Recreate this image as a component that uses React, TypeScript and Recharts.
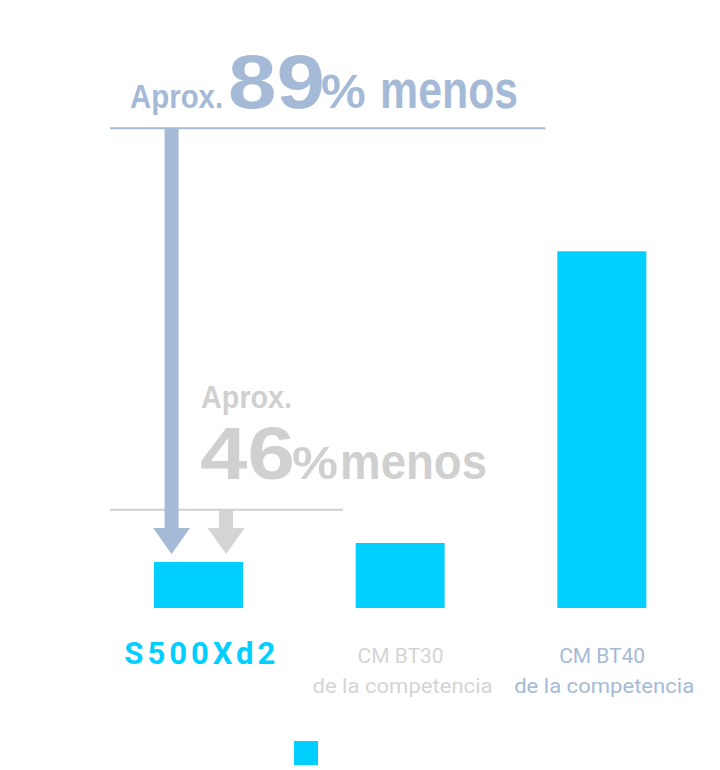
import React from "react";
import { BarChart, Bar, XAxis, YAxis, ReferenceLine, Legend } from "recharts";

// ---- data ----
const categories = ["S500Xd2", "CM BT30", "CM BT40"];
const subtitles = ["", "de la competencia", "de la competencia"];
const values = [11.5, 16.25, 89];

// annotation levels (value units) and text
const mainLevel = 119.75;
const secondLevel = 24.5;
const arrowTipLevel = 13.5;
const mainTexts = ["Aprox.", "89", "%", "menos"];
const secondTexts = ["Aprox.", "46", "%", "menos"];

// ---- styles ----
const CYAN = "#00CFFF";
const BLUEGRAY = "#A5BAD6";
const GRAY = "#D4D4D4";
const tickColors = [CYAN, GRAY, BLUEGRAY];
const ANNOT_FONT = "'Liberation Sans', Arial, sans-serif";
const LABEL_FONT = "Roboto, 'Noto Sans', sans-serif";

const data = categories.map((name, i) => ({ name, value: values[i] }));

const CategoryTick = (props: any) => {
  const { x, y, payload } = props;
  const i = categories.indexOf(payload.value);
  if (i === 0) {
    return (
      <text
        x={x + 3}
        y={y + 56}
        textAnchor="middle"
        fill={tickColors[i]}
        fontFamily={LABEL_FONT}
        fontWeight={700}
        fontSize={31}
        letterSpacing={4}
      >
        {payload.value}
      </text>
    );
  }
  return (
    <g>
      <text
        x={x}
        y={y + 55}
        textAnchor="middle"
        fill={tickColors[i]}
        fontFamily={LABEL_FONT}
        fontSize={20.5}
        textLength={86}
        lengthAdjust="spacingAndGlyphs"
      >
        {payload.value}
      </text>
      <text
        x={x + 2}
        y={y + 85}
        textAnchor="middle"
        fill={tickColors[i]}
        fontFamily={LABEL_FONT}
        fontSize={21}
        textLength={180}
        lengthAdjust="spacingAndGlyphs"
      >
        {subtitles[i]}
      </text>
    </g>
  );
};

type Piece = { dx: number; dy: number; size: number; w: number };

const mainLayout: Piece[] = [
  { dx: 20, dy: -20, size: 33, w: 93 },
  { dx: 118, dy: -20, size: 76, w: 97 },
  { dx: 211, dy: -20, size: 48, w: 45 },
  { dx: 270, dy: -20, size: 53, w: 138 },
];
const secondLayout: Piece[] = [
  { dx: 91, dy: -102, size: 31, w: 91 },
  { dx: 90, dy: -31, size: 74, w: 95 },
  { dx: 182, dy: -31, size: 46, w: 46 },
  { dx: 230, dy: -31, size: 50, w: 147 },
];

const makeAnnotationLine =
  (color: string, texts: string[], layout: Piece[]) => (p: any) => {
    const { x1, y1, x2, y2 } = p;
    return (
      <g>
        <line x1={x1} y1={y1} x2={x2} y2={y2} stroke={color} strokeWidth={2} />
        {texts.map((s, k) => (
          <text
            key={k}
            x={x1 + layout[k].dx}
            y={y1 + layout[k].dy}
            fill={color}
            fontFamily={ANNOT_FONT}
            fontWeight={700}
            fontSize={layout[k].size}
            textLength={layout[k].w}
            lengthAdjust="spacingAndGlyphs"
          >
            {s}
          </text>
        ))}
      </g>
    );
  };

const makeArrow = (color: string) => (p: any) => {
  const { x1, y1, y2 } = p;
  const top = Math.min(y1, y2);
  const tip = Math.max(y1, y2);
  const shaft = 7;
  const head = 18.5;
  const headLen = 26;
  const pts = [
    [x1 - shaft, top],
    [x1 + shaft, top],
    [x1 + shaft, tip - headLen],
    [x1 + head, tip - headLen],
    [x1, tip],
    [x1 - head, tip - headLen],
    [x1 - shaft, tip - headLen],
  ]
    .map((q) => q.join(","))
    .join(" ");
  return <polygon points={pts} fill={color} />;
};

export default function App() {
  return (
    <div style={{ position: "absolute", left: 0, top: 0, width: 720, height: 770, background: "#fff" }}>
      <BarChart
        width={720}
        height={770}
        data={data}
        margin={{ top: 47, right: 17, left: 98, bottom: 0 }}
      >
        <XAxis
          dataKey="name"
          axisLine={false}
          tickLine={false}
          tickSize={0}
          tickMargin={0}
          interval={0}
          height={138}
          tick={<CategoryTick />}
        />
        <XAxis xAxisId="n" type="number" domain={[0, 2]} hide allowDataOverflow />
        <YAxis hide domain={[0, 140]} allowDataOverflow />
        <Legend
          verticalAlign="bottom"
          align="left"
          iconType="square"
          iconSize={24}
          formatter={() => ""}
          wrapperStyle={{ left: 294, bottom: 5 }}
        />
        <Bar dataKey="value" name="" fill={CYAN} barSize={89} isAnimationActive={false} />
        <ReferenceLine
          xAxisId="n"
          ifOverflow="visible"
          segment={[
            { x: 0.04, y: secondLevel },
            { x: 0.81, y: secondLevel },
          ]}
          shape={makeAnnotationLine("#D0D0D0", secondTexts, secondLayout)}
        />
        <ReferenceLine
          xAxisId="n"
          ifOverflow="visible"
          segment={[
            { x: 0.04, y: mainLevel },
            { x: 1.479, y: mainLevel },
          ]}
          shape={makeAnnotationLine(BLUEGRAY, mainTexts, mainLayout)}
        />
        <ReferenceLine
          xAxisId="n"
          ifOverflow="visible"
          segment={[
            { x: 0.4235, y: secondLevel },
            { x: 0.4235, y: arrowTipLevel },
          ]}
          shape={makeArrow(GRAY)}
        />
        <ReferenceLine
          xAxisId="n"
          ifOverflow="visible"
          segment={[
            { x: 0.2432, y: mainLevel },
            { x: 0.2432, y: arrowTipLevel },
          ]}
          shape={makeArrow(BLUEGRAY)}
        />
      </BarChart>
    </div>
  );
}
